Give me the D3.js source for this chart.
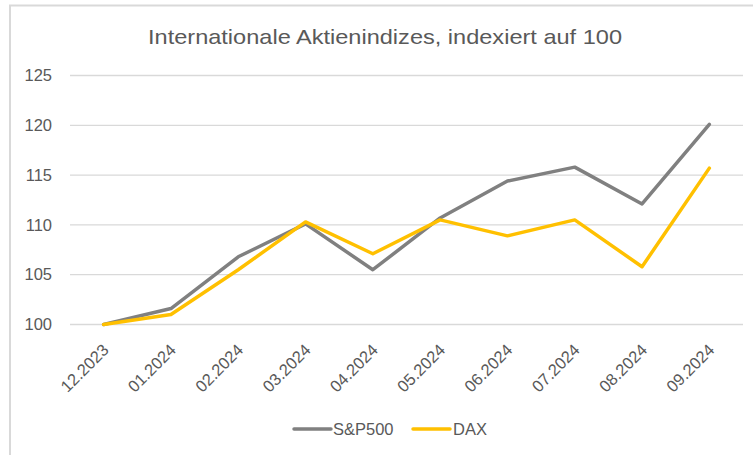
<!DOCTYPE html>
<html><head><meta charset="utf-8">
<script src="https://cdn.jsdelivr.net/npm/d3@7"></script>
<style>body{margin:0;background:#fff}svg{display:block}</style>
</head><body>
<svg id="c" width="753" height="455"></svg>
<script>
const categories = ["12.2023","01.2024","02.2024","03.2024","04.2024","05.2024","06.2024","07.2024","08.2024","09.2024"];
const sp500 = [100, 101.6, 106.8, 110.1, 105.5, 110.7, 114.4, 115.8, 112.1, 120.1];
const dax = [100, 101.0, 105.5, 110.3, 107.1, 110.5, 108.9, 110.5, 105.8, 115.7];
const yTicks = [100, 105, 110, 115, 120, 125];
const seriesNames = ["S&P500", "DAX"];
const colors = ["#808080", "#FFC000"];

const svg = d3.select("#c");
const font = "'Liberation Sans', Arial, sans-serif";
const textColor = "#595959";

// frame
svg.append("line").attr("x1",9).attr("x2",753).attr("y1",5.5).attr("y2",5.5).attr("stroke","#d9d9d9").attr("stroke-width",2);
svg.append("line").attr("x1",10).attr("x2",10).attr("y1",5).attr("y2",455).attr("stroke","#d9d9d9").attr("stroke-width",2);

const x = d3.scaleBand().domain(categories).range([70, 743]);
const y = d3.scaleLinear().domain([100, 125]).range([324.5, 75.5]);

// title
svg.append("text").attr("x", 385).attr("y", 44).attr("text-anchor","middle")
  .attr("font-family", font).attr("font-size", 21).attr("fill", textColor)
  .attr("textLength", 474).attr("lengthAdjust","spacingAndGlyphs")
  .text("Internationale Aktienindizes, indexiert auf 100");

// grid
const grid = svg.append("g");
grid.selectAll("line").data(yTicks).join("line")
  .attr("x1", 70).attr("x2", 743)
  .attr("y1", d => y(d)).attr("y2", d => y(d))
  .attr("stroke", "#d9d9d9").attr("stroke-width", 1.3);

// y labels
svg.append("g").selectAll("text").data(yTicks).join("text")
  .attr("x", 52).attr("y", d => y(d)).attr("dy", "0.35em")
  .attr("text-anchor","end").attr("font-family", font).attr("font-size", 16.5).attr("fill", textColor)
  .text(d => d);

// x labels
svg.append("g").selectAll("text").data(categories).join("text")
  .attr("transform", d => `translate(${x(d)+x.bandwidth()/2+2},${347}) rotate(-45)`)
  .attr("text-anchor","end").attr("dy","0.35em")
  .attr("font-family", font).attr("font-size", 16.5).attr("fill", textColor)
  .text(d => d);

const line = d3.line().x((d,i) => x(categories[i]) + x.bandwidth()/2).y(d => y(d));
[sp500, dax].forEach((s, k) => {
  svg.append("path").datum(s).attr("d", line).attr("fill","none")
    .attr("stroke", colors[k]).attr("stroke-width", 3.5)
    .attr("stroke-linejoin","round").attr("stroke-linecap","round");
});

// legend
const legend = [{x: 294, tx: 333}, {x: 413, tx: 453}];
seriesNames.forEach((n, k) => {
  svg.append("line").attr("x1", legend[k].x).attr("x2", legend[k].x + 37)
    .attr("y1", 429).attr("y2", 429).attr("stroke", colors[k]).attr("stroke-width", 3.5).attr("stroke-linecap","round");
  svg.append("text").attr("x", legend[k].tx).attr("y", 429).attr("dy","0.35em")
    .attr("font-family", font).attr("font-size", 16.5).attr("fill", textColor).text(n);
});
</script>
</body></html>
